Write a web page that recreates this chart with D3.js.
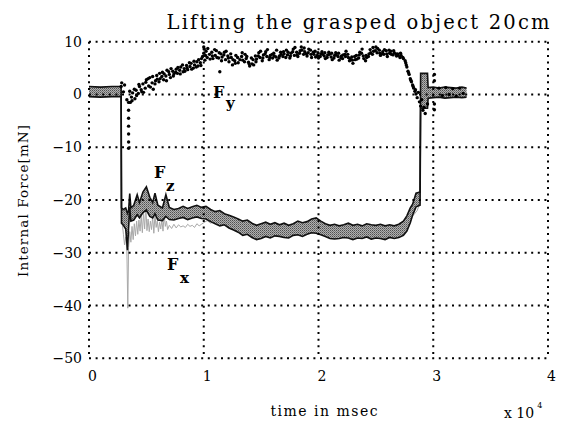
<!DOCTYPE html>
<html><head><meta charset="utf-8">
<script src="https://cdn.jsdelivr.net/npm/d3@7/dist/d3.min.js"></script>
<style>html,body{margin:0;padding:0;background:#fff;}svg{display:block;}</style>
</head><body>
<svg id="chart" width="566" height="421"></svg>
<script>
// ---- data (time in units of 10^4 msec, force in mN) ----
const titleText = "Lifting the grasped object 20cm";
const xLabelText = "time in msec";
const yLabelText = "Internal Force[mN]";
const xTicks = [0, 1, 2, 3, 4];
const yTicks = [10, 0, -10, -20, -30, -40, -50];
const gridX = [1, 2, 3];
const gridY = [0, -10, -20, -30, -40];

// F_y (black dots)
const fyT = [0.28,0.285,0.30,0.31,0.33,0.345,0.345,0.345,0.345,0.345,0.345,0.345,0.36,0.37,0.38,0.40,0.41,0.43,0.44,0.46,0.47,0.49,0.50,0.52,0.53,0.55,0.56,0.58,0.59,0.61,0.62,0.64,0.65,0.67,0.68,0.70,0.71,0.73,0.74,0.76,0.77,0.79,0.80,0.82,0.83,0.85,0.86,0.88,0.89,0.91,0.92,0.94,0.95,0.97,0.98,1.00,1.00,1.01,1.02,1.03,1.05,1.07,1.08,1.10,1.11,1.13,1.14,1.15,1.16,1.18,1.19,1.21,1.22,1.24,1.25,1.27,1.28,1.30,1.33,1.34,1.36,1.37,1.39,1.40,1.42,1.43,1.45,1.46,1.48,1.49,1.51,1.52,1.54,1.55,1.57,1.58,1.60,1.61,1.63,1.64,1.66,1.67,1.69,1.70,1.72,1.73,1.75,1.76,1.78,1.79,1.81,1.82,1.84,1.85,1.87,1.88,1.90,1.91,1.93,1.94,1.96,1.97,1.99,2.00,2.02,2.03,2.05,2.06,2.08,2.09,2.11,2.12,2.14,2.15,2.17,2.18,2.20,2.21,2.23,2.24,2.26,2.27,2.29,2.30,2.32,2.33,2.35,2.36,2.38,2.39,2.41,2.42,2.44,2.45,2.47,2.48,2.50,2.51,2.53,2.54,2.56,2.57,2.59,2.60,2.62,2.63,2.65,2.66,2.68,2.69,2.71,2.72,2.74,2.76,2.77,2.78,2.79,2.80,2.81,2.82,2.83,2.84,2.85,2.86,2.87,2.88,2.89,2.90,2.91,2.92,2.93,2.95,3.01,3.01,3.01,3.01,3.05,3.08,3.11,3.14,3.17,3.20,3.23,3.26,
  0.355,0.375,0.395,0.415,0.435,0.455,0.475,0.495,0.515,0.535,0.555,0.575,0.595,0.615,0.635,0.655,0.675,0.695,0.715,0.735,0.755,0.775,0.795,0.815,0.835,0.855,0.875,0.895,0.915,0.935,0.955,0.975,0.99,1.005,1.015,
  1.035,1.055,1.075,1.095,1.115,1.135,1.155,1.175,1.195,1.215,1.235,1.255,1.275,1.295,1.315,1.335,1.355,1.375,1.395,1.415,1.435,1.455,1.475,1.495,1.515,1.535,1.555,1.575,1.595,1.615,1.635,1.655,1.675,1.695,1.715,1.735,1.755,1.775,1.795,1.815,1.835,1.855,1.875,1.895,1.915,1.935,1.955,1.975,1.995,2.015,2.035,2.055,2.075,2.095,2.115,2.135,2.155,2.175,2.195,2.215,2.235,2.255,2.275,2.295,2.315,2.335,2.355,2.375,2.395,2.415,2.435,2.455,2.475,2.495,2.515,2.535,2.555,2.575,2.595,2.615,2.635,2.655,2.675,2.695,2.715,2.735,2.755,2.765,2.785,2.805,2.825,2.845];
const fyV = [1.5,2.2,0.5,1.8,-1.0,-1.5,-3.0,-4.5,-6.0,-7.5,-9.0,-10.2,-1.5,-0.5,0.3,-0.8,0.8,0.2,1.5,0.5,2.0,1.2,2.8,1.6,3.2,2.2,1.0,2.6,3.6,2.4,3.0,4.2,2.8,3.5,4.6,3.8,3.2,4.4,3.9,4.8,4.0,4.6,5.2,4.3,4.9,5.5,4.7,5.3,5.9,5.0,5.6,6.2,5.4,6.0,6.8,7.8,9.0,6.5,8.2,7.0,7.6,8.0,6.8,7.4,8.3,6.9,4.3,7.7,7.1,8.0,6.6,7.3,6.2,7.0,5.6,6.4,7.4,6.0,7.2,6.5,7.6,6.8,6.1,5.4,5.8,6.6,7.3,6.7,7.9,7.0,6.4,7.5,8.1,7.2,6.6,7.4,6.9,7.8,7.1,6.5,7.3,8.0,7.2,7.7,8.4,7.5,6.9,7.8,8.6,7.4,8.0,7.2,8.3,9.0,7.6,8.1,7.3,7.9,8.4,7.0,7.6,8.2,7.4,6.9,7.7,8.1,7.3,6.8,7.5,8.0,7.1,6.6,7.4,7.9,7.2,6.5,7.3,6.8,7.6,8.2,7.0,6.4,7.1,5.9,6.6,7.4,6.9,8.0,8.6,7.3,6.4,7.0,7.7,8.5,7.6,8.2,9.0,7.9,8.4,7.4,8.1,7.6,8.3,7.2,7.8,8.2,7.5,7.9,7.3,7.7,7.0,7.4,6.8,6.0,5.2,4.4,3.8,3.0,2.4,1.8,1.2,0.6,0.1,-0.6,0.4,-1.4,-2.2,-1.0,-3.0,-2.4,-3.6,-1.8,3.8,2.6,-1.8,-2.9,1.2,-0.2,1.3,0.0,1.1,-0.3,1.2,0.2,
  0.6,-1.2,1.0,-0.2,1.9,0.9,0.4,2.3,3.0,1.4,3.4,2.0,2.9,4.0,3.4,3.9,2.6,4.3,4.9,3.5,4.2,5.1,3.9,5.6,4.4,5.0,6.0,4.8,6.3,5.2,6.6,5.5,7.2,8.6,7.4,
  8.7,6.7,7.3,8.5,7.0,7.9,6.4,7.5,8.2,6.9,7.7,6.6,5.9,7.0,6.6,7.9,6.2,7.2,5.8,6.9,5.6,6.2,7.3,8.2,6.9,7.7,8.5,7.0,7.6,7.3,8.4,6.9,7.6,8.1,7.0,8.0,7.3,8.1,8.9,7.5,7.8,8.4,8.8,7.7,8.6,7.6,8.0,7.1,7.9,7.2,7.6,7.9,7.0,7.6,7.8,6.9,7.5,7.8,6.9,7.5,7.2,7.6,6.8,6.5,7.2,6.7,7.5,7.8,6.8,7.4,7.2,7.9,8.9,8.3,8.7,7.8,7.7,8.5,7.7,8.4,7.6,8.3,7.7,7.4,7.8,7.0,6.4,5.6,4.1,2.7,1.5,0.9];

// F_z (banded trace: upper and lower envelope)
const fzT = [0,0.10,0.20,0.28,0.283,0.30,0.32,0.335,0.345,0.355,0.365,0.39,0.42,0.44,0.47,0.50,0.53,0.555,0.575,0.60,0.64,0.67,0.70,0.74,0.78,0.82,0.86,0.90,0.94,0.98,1.02,1.06,1.10,1.14,1.18,1.22,1.26,1.30,1.34,1.38,1.42,1.46,1.50,1.54,1.58,1.62,1.66,1.70,1.74,1.78,1.82,1.86,1.90,1.94,1.98,2.02,2.06,2.10,2.14,2.18,2.22,2.26,2.30,2.34,2.38,2.42,2.46,2.50,2.54,2.58,2.62,2.66,2.70,2.74,2.77,2.80,2.82,2.85,2.885,2.89,2.95,2.955,3.00,3.05,3.10,3.15,3.20,3.25,3.29];
const fzHi = [1.5,1.4,1.5,1.5,-21.5,-21.8,-21.5,-22.5,-22.0,-18.8,-21.5,-21.0,-19.0,-20.5,-18.5,-17.5,-19.5,-20.5,-18.7,-21.0,-21.5,-19.0,-21.4,-21.8,-21.6,-21.2,-21.6,-21.3,-21.0,-21.4,-21.2,-21.8,-22.2,-22.0,-22.6,-22.9,-23.2,-23.6,-24.0,-23.8,-24.4,-24.8,-24.5,-24.2,-24.6,-24.3,-24.7,-24.4,-24.8,-24.5,-24.0,-24.3,-24.1,-23.6,-23.4,-24.0,-24.5,-24.8,-24.6,-24.9,-24.7,-24.4,-24.8,-24.6,-24.9,-24.5,-24.7,-24.8,-24.6,-24.9,-24.7,-24.9,-24.6,-24.0,-23.0,-21.5,-20.8,-18.7,-18.5,4.0,4.0,1.3,1.4,1.2,1.4,1.3,1.2,1.4,1.2];
const fzLo = [-0.4,-0.5,-0.4,-0.4,-24.4,-24.8,-25.5,-29.5,-25.3,-21.4,-24.0,-23.8,-22.8,-23.4,-22.4,-21.9,-23.1,-23.4,-22.6,-23.8,-23.9,-23.1,-23.7,-23.8,-23.5,-23.3,-23.7,-23.4,-23.2,-23.5,-23.6,-24.1,-24.5,-24.9,-24.7,-25.3,-25.7,-26.1,-26.7,-26.5,-27.1,-27.5,-27.3,-26.9,-27.2,-26.8,-26.9,-27.1,-27.2,-26.7,-26.6,-26.9,-26.5,-26.2,-26.3,-26.6,-26.9,-27.3,-27.4,-27.3,-27.1,-27.2,-27.5,-27.2,-27.3,-27.0,-27.4,-27.2,-27.3,-27.5,-27.1,-27.3,-27.1,-26.7,-25.9,-24.3,-22.9,-21.3,-21.0,-2.6,-2.6,-0.7,-0.6,-0.5,-0.7,-0.6,-0.5,-0.6,-0.5];

// F_x (light grey trace)
const fxT = [0,0.28,0.285,0.30,0.31,0.32,0.33,0.338,0.345,0.355,0.365,0.375,0.385,0.395,0.405,0.415,0.425,0.435,0.445,0.455,0.465,0.475,0.485,0.495,0.505,0.515,0.525,0.535,0.545,0.555,0.565,0.575,0.585,0.595,0.605,0.615,0.625,0.635,0.645,0.655,0.665,0.675,0.685,0.70,0.72,0.74,0.76,0.78,0.80,0.82,0.84,0.86,0.88,0.90,0.92,0.94,0.96,0.98,1.00,1.03,1.06,1.10,1.15,1.20,1.25,1.30,1.40,1.50,1.60,1.70,1.80,1.90,2.00,2.10,2.20,2.30,2.40,2.50,2.60,2.70,2.76,2.80,2.83,2.86,2.885,2.89,2.92,2.95,3.10,3.28];
const fxV = [0.5,0.5,-23.5,-26.5,-28.5,-27.0,-29.5,-40.5,-29.0,-26.0,-28.0,-25.0,-27.5,-24.5,-26.8,-24.0,-26.5,-23.8,-25.9,-23.0,-26.2,-22.5,-25.5,-21.0,-25.8,-23.6,-26.0,-24.0,-25.6,-23.2,-26.3,-22.8,-25.2,-24.0,-26.0,-24.2,-25.5,-23.8,-25.9,-22.6,-25.0,-24.0,-25.6,-24.8,-25.4,-24.6,-25.3,-24.7,-25.1,-24.9,-25.2,-24.6,-25.0,-24.8,-25.2,-24.5,-24.9,-24.6,-24.3,-23.9,-24.4,-24.0,-24.6,-24.2,-24.9,-25.2,-25.8,-25.6,-25.9,-25.5,-25.3,-25.2,-24.8,-25.9,-25.7,-26.0,-25.8,-25.9,-26.1,-25.6,-24.5,-23.5,-22.8,-22.0,-20.5,1.5,-1.5,0.6,0.5,0.5];

// ---- drawing ----
const svg = d3.select("#chart");
const x = d3.scaleLinear().domain([0, 4]).range([89, 548]);
const y = d3.scaleLinear().domain([-50, 10]).range([358.3, 41.7]);
const serif = "'DejaVu Serif','Liberation Serif',serif";

// halftone pattern for the F_z band
const defs = svg.append("defs");
const pat = defs.append("pattern").attr("id","half").attr("width",2).attr("height",2).attr("patternUnits","userSpaceOnUse");
pat.append("rect").attr("width",2).attr("height",2).attr("fill","#b0b0b0");
pat.append("rect").attr("x",0).attr("y",0).attr("width",1).attr("height",1).attr("fill","#505050");
pat.append("rect").attr("x",1).attr("y",1).attr("width",1).attr("height",1).attr("fill","#777");

const plot = svg.append("g");

// F_x light grey trace
plot.append("path")
  .datum(fxT.map((t,i)=>[t,fxV[i]]))
  .attr("fill","none").attr("stroke","#a8a8a8").attr("stroke-width",1)
  .attr("d", d3.line().x(d=>x(d[0])).y(d=>y(d[1])));

// F_z band
const fz = fzT.map((t,i)=>({t, hi:fzHi[i], lo:fzLo[i]}));
plot.append("path").datum(fz)
  .attr("fill","url(#half)").attr("stroke","none")
  .attr("d", d3.area().x(d=>x(d.t)).y0(d=>y(d.lo)).y1(d=>y(d.hi)));
plot.append("path").datum(fz).attr("fill","none").attr("stroke","#111").attr("stroke-width",1.6)
  .attr("d", d3.line().x(d=>x(d.t)).y(d=>y(d.hi)));
plot.append("path").datum(fz).attr("fill","none").attr("stroke","#111").attr("stroke-width",1.6)
  .attr("d", d3.line().x(d=>x(d.t)).y(d=>y(d.lo)));

// F_y dots
plot.selectAll("circle.fy").data(fyT.map((t,i)=>[t,fyV[i]])).enter().append("circle")
  .attr("class","fy").attr("cx",d=>x(d[0])).attr("cy",d=>y(d[1])).attr("r",1.7).attr("fill","#000");

// grid & frame (dotted)
const g = svg.append("g").attr("stroke","#000").attr("stroke-width",2).attr("stroke-dasharray","2 4.6").attr("fill","none");
gridX.forEach(v=>g.append("line").attr("x1",x(v)).attr("x2",x(v)).attr("y1",y(10)).attr("y2",y(-50)));
gridY.forEach(v=>g.append("line").attr("x1",x(0)).attr("x2",x(4)).attr("y1",y(v)).attr("y2",y(v)));
[[0,10,4,10],[0,-50,4,-50],[0,10,0,-50],[4,10,4,-50]].forEach(s=>
  g.append("line").attr("x1",x(s[0])).attr("y1",y(s[1])).attr("x2",x(s[2])).attr("y2",y(s[3])));

// axes (labels only)
const fmt = v => v < 0 ? "\u2212" + Math.abs(v) : String(v);
const ax = svg.append("g").attr("transform",`translate(0,${y(-50)})`)
  .call(d3.axisBottom(x).tickValues(xTicks).tickFormat(fmt).tickSize(0).tickPadding(13));
ax.selectAll("text").attr("dx", 3);
const ay = svg.append("g").attr("transform",`translate(${x(0)},0)`)
  .call(d3.axisLeft(y).tickValues(yTicks).tickFormat(fmt).tickSize(0).tickPadding(7));
[ax, ay].forEach(a=>{ a.select(".domain").remove(); a.selectAll("text").attr("font-family",serif).attr("font-size",14).attr("fill","#000"); });

// title & axis labels
svg.append("text").attr("x",358).attr("y",29).attr("text-anchor","middle")
  .attr("font-family",serif).attr("font-size",19.5).attr("textLength",383).attr("lengthAdjust","spacing").text(titleText);
svg.append("text").attr("x",324).attr("y",416).attr("text-anchor","middle")
  .attr("font-family",serif).attr("font-size",14).attr("textLength",107).attr("lengthAdjust","spacing").text(xLabelText);
svg.append("text").attr("transform","translate(28,201) rotate(-90)").attr("text-anchor","middle")
  .attr("font-family",serif).attr("font-size",13.5).attr("textLength",152).attr("lengthAdjust","spacing").text(yLabelText);
const ex = svg.append("text").attr("x",504).attr("y",418).attr("font-family",serif).attr("font-size",14);
ex.append("tspan").text("x 10");
ex.append("tspan").attr("dx",3).attr("dy",-10).attr("font-size",8).text("4");

// series annotations
function subLabel(px, py, sub, sx, sy){
  const t = svg.append("g").attr("font-family",serif).attr("font-weight","bold").attr("font-size",16);
  t.append("text").attr("x",px).attr("y",py).text("F");
  t.append("text").attr("x",sx).attr("y",sy).attr("font-size",15).text(sub);
}
subLabel(213, 98, "y", 226, 108);
subLabel(154, 178, "z", 166, 191);
subLabel(167, 270, "x", 180, 283);
</script>
</body></html>
